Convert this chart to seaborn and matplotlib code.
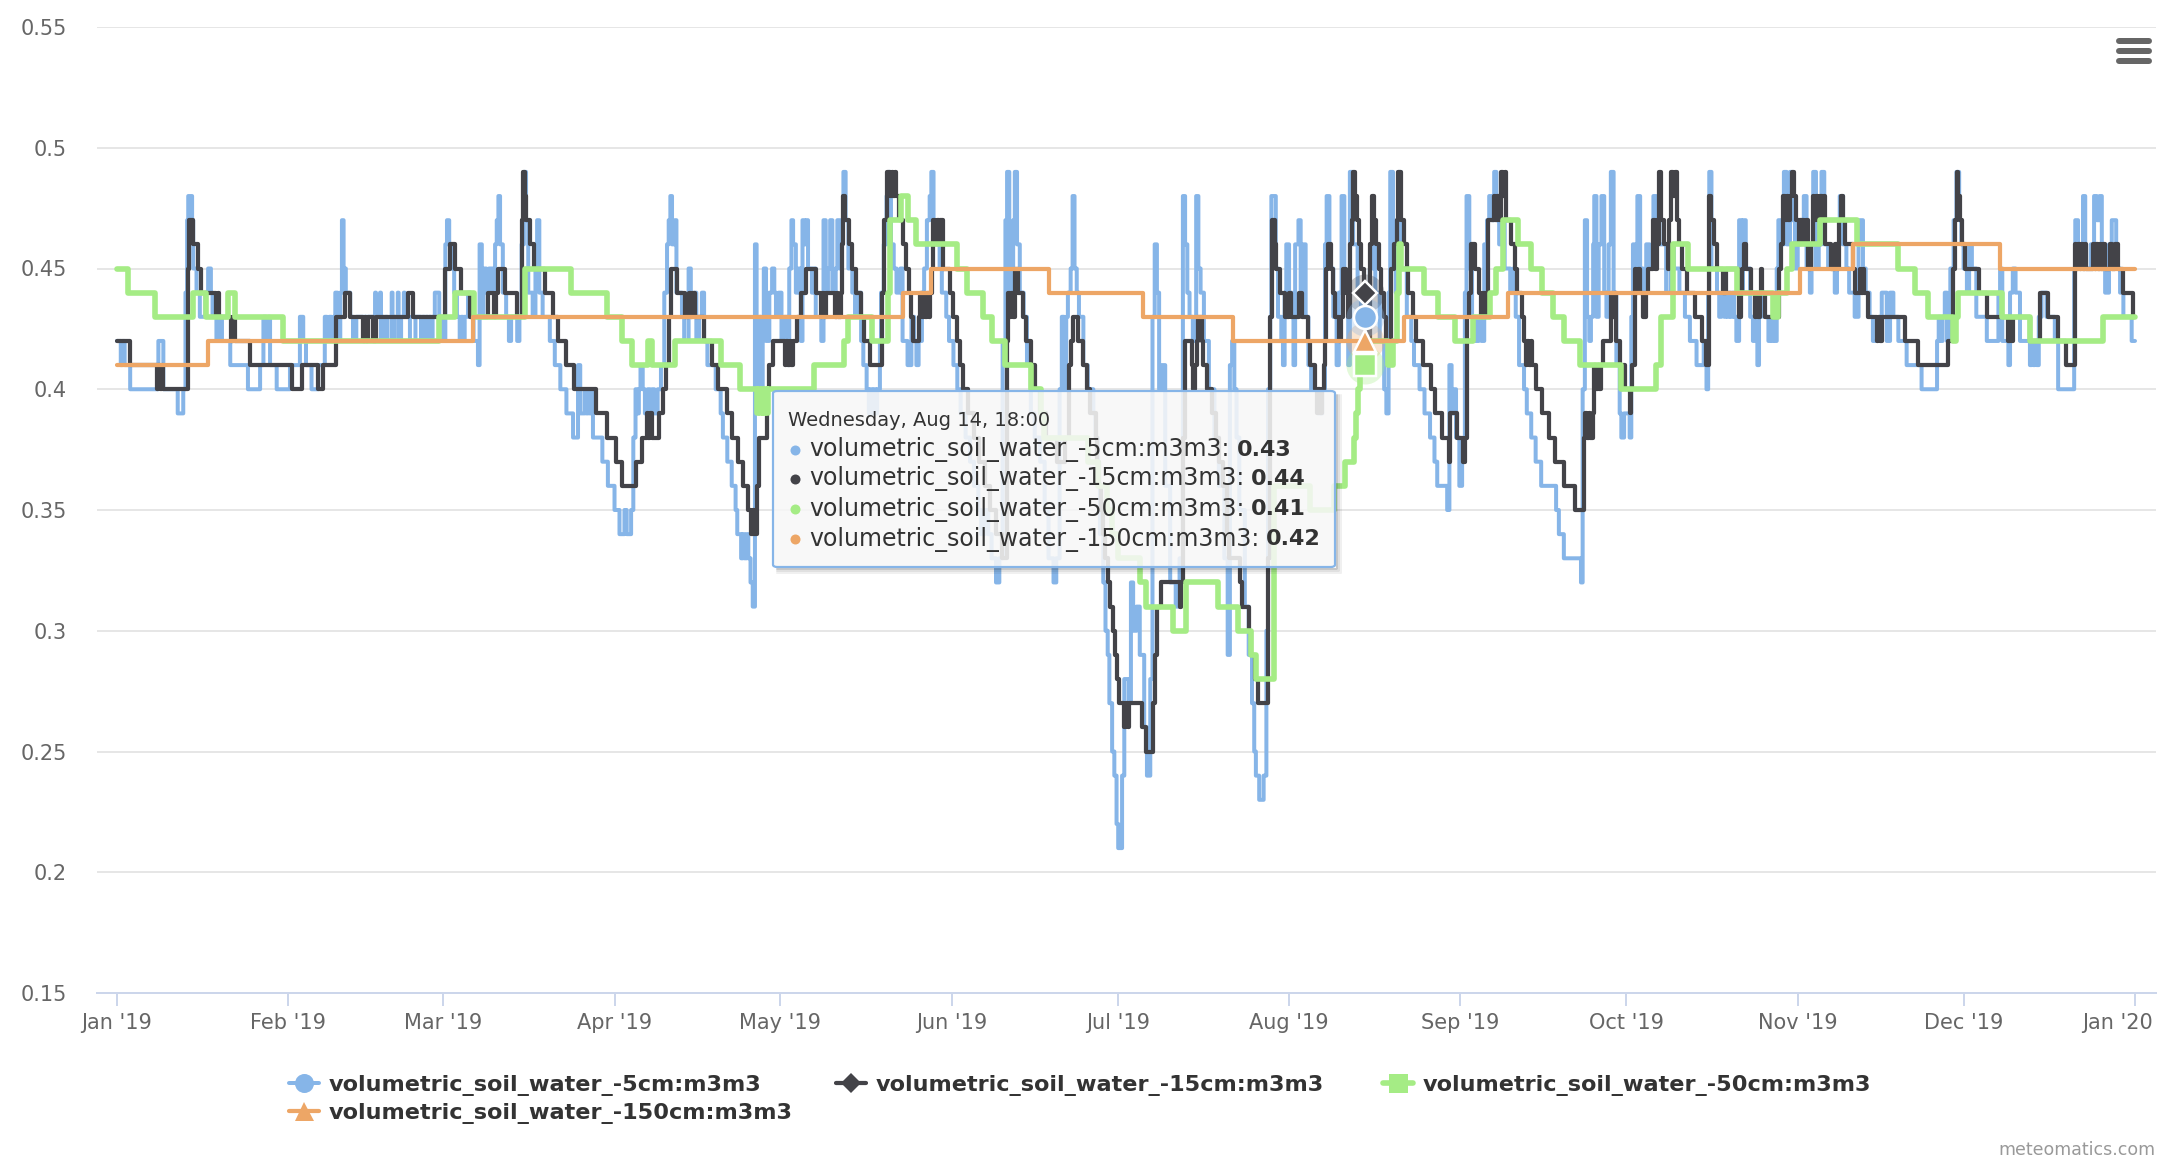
import matplotlib
matplotlib.use("Agg")
import matplotlib.pyplot as plt
import matplotlib.dates as mdates
from matplotlib.lines import Line2D
from matplotlib.patches import FancyBboxPatch
from matplotlib.transforms import ScaledTranslation
import pandas as pd
import seaborn as sns

# (days since 1 Jan 2019, value)
soil_5cm = [(0,.42),(0.7,.41),(1.0,.42),(1.4,.41),(2.4,.40),(7.5,.42),(8.4,.40),(11,.39),(12,.40),(12.4,.44),(12.7,.47),(12.9,.48),(13.6,.47),(13.8,.45),(14.4,.44),(15,.43),(16,.44),(16.5,.45),(17,.44),(17.3,.43),(18,.42),(18.5,.43),(19,.42),(20.5,.41),(23.7,.40),(25.9,.41),(26.5,.43),(27,.42),(27.4,.43),(27.7,.41),(28.9,.40),(31.3,.41),(33.1,.43),(33.7,.42),(34.2,.41),(35.2,.40),(36.4,.41),(37.6,.43),(38,.42),(38.4,.43),(38.8,.42),(39.2,.43),(39.5,.44),(39.9,.42),(40.4,.44),(40.7,.47),(41,.45),(41.4,.44),(42.2,.43),(42.7,.42),(43.3,.43),(46.7,.44),(46.85,.43),(47.6,.44),(47.75,.42),(48,.43),(48.3,.42),(48.6,.43),(48.9,.42),(49.7,.44),(49.85,.42),(50.2,.43),(50.8,.44),(50.95,.42),(51.4,.43),(51.9,.44),(52.05,.43),(53,.42),(54,.43),(55,.42),(55.3,.43),(55.6,.42),(55.9,.43),(56.2,.42),(56.5,.43),(56.8,.42),(57.1,.43),(57.5,.44),(58.3,.43),(59,.42),(59.4,.46),(59.7,.47),(60.1,.46),(60.5,.45),(61,.44),(61.5,.43),(62,.42),(62.3,.43),(62.6,.42),(62.9,.43),(63.5,.44),(64,.43),(64.5,.42),(65.3,.41),(65.6,.46),(66,.43),(66.3,.45),(66.8,.44),(67.3,.45),(68,.44),(68.4,.46),(68.7,.47),(69,.48),(69.3,.46),(69.8,.44),(70.4,.43),(70.9,.42),(71.3,.43),(72.4,.42),(72.8,.43),(73.2,.46),(73.6,.49),(74,.47),(74.4,.44),(75.2,.43),(75.7,.45),(76,.47),(76.4,.44),(77,.43),(78.3,.42),(79.2,.41),(80.2,.40),(81.3,.39),(82.5,.38),(83.4,.41),(83.8,.39),(84.6,.40),(84.9,.39),(85.2,.40),(85.5,.39),(85.8,.40),(86.1,.38),(87.8,.37),(88.8,.36),(90,.35),(90.9,.34),(91.8,.35),(92.2,.34),(93,.35),(93.4,.38),(93.8,.40),(94.1,.39),(94.4,.40),(94.7,.41),(95.1,.40),(95.5,.39),(96,.40),(96.4,.39),(96.8,.40),(97.2,.39),(97.8,.40),(98.4,.41),(99,.44),(99.5,.46),(99.8,.47),(100.1,.48),(100.4,.46),(100.9,.47),(101.2,.44),(102.2,.43),(102.6,.42),(103.4,.45),(103.8,.43),(104.4,.44),(104.8,.42),(105.3,.43),(105.8,.44),(106.2,.42),(106.8,.41),(108.3,.40),(109.2,.39),(109.6,.38),(110.4,.37),(111.2,.36),(111.9,.35),(112.2,.34),(112.9,.33),(113.2,.34),(113.5,.33),(113.9,.34),(114.2,.33),(114.6,.32),(115,.31),(115.4,.46),(115.7,.42),(115.9,.40),(116.2,.43),(116.5,.40),(116.8,.43),(117,.45),(117.4,.42),(118,.44),(118.5,.45),(118.9,.44),(119.2,.43),(119.7,.44),(120.2,.42),(120.7,.43),(121.2,.41),(121.6,.45),(122,.47),(122.3,.46),(122.8,.44),(123.3,.45),(123.7,.42),(124,.47),(124.4,.46),(124.7,.47),(125,.45),(125.7,.44),(126,.45),(126.4,.43),(127.4,.42),(127.8,.47),(128.2,.44),(128.6,.45),(129,.47),(129.4,.44),(130,.45),(130.3,.47),(130.7,.45),(131.1,.47),(131.4,.49),(131.8,.47),(132.3,.45),(133,.44),(133.5,.43),(134,.44),(134.6,.42),(135,.41),(135.6,.40),(136,.39),(136.3,.40),(136.6,.39),(136.9,.40),(137.2,.39),(137.5,.40),(138,.42),(138.2,.44),(138.7,.46),(139.2,.48),(139.5,.49),(140,.46),(140.5,.45),(141,.44),(141.7,.45),(142.1,.42),(143,.41),(143.7,.43),(144.2,.42),(144.6,.41),(145,.42),(145.6,.44),(146,.45),(146.5,.47),(147,.48),(147.3,.49),(147.7,.47),(148.3,.46),(148.8,.45),(149.2,.44),(150,.43),(150.5,.42),(151.3,.41),(152,.40),(152.6,.39),(153.5,.38),(154.3,.37),(155,.36),(155.8,.35),(156.3,.34),(157,.35),(157.6,.34),(158.2,.33),(159,.32),(159.6,.33),(160.2,.42),(160.7,.47),(161,.49),(161.4,.44),(161.8,.45),(162.1,.47),(162.4,.49),(162.8,.46),(163.3,.44),(164,.43),(164.6,.41),(165.3,.39),(166,.38),(167,.37),(167.8,.35),(168.5,.33),(169.4,.32),(169.9,.33),(170.5,.40),(170.9,.43),(171.3,.40),(171.7,.43),(172,.44),(172.5,.45),(172.85,.48),(173.2,.45),(173.6,.44),(174,.43),(174.8,.41),(175.6,.40),(176.6,.39),(177,.38),(177.4,.36),(177.8,.34),(178.4,.32),(178.8,.30),(179.2,.29),(179.5,.27),(180,.25),(180.4,.24),(180.8,.22),(181.1,.21),(181.8,.24),(182.2,.28),(183,.27),(183.4,.32),(183.8,.30),(184.4,.31),(185,.29),(185.8,.26),(186.3,.24),(186.9,.28),(187.3,.43),(187.7,.46),(188.1,.44),(188.5,.40),(189,.41),(189.6,.36),(190.5,.32),(191.5,.31),(192.2,.33),(192.8,.48),(193.2,.46),(193.6,.44),(194,.43),(194.6,.42),(195.2,.48),(195.6,.45),(196,.44),(196.6,.42),(197.5,.40),(198.5,.38),(199.3,.36),(200.3,.33),(200.9,.29),(201.3,.41),(201.7,.42),(202.1,.40),(202.5,.38),(203,.35),(204,.31),(204.7,.29),(205.3,.27),(205.7,.25),(206,.24),(206.6,.23),(207.4,.24),(207.9,.30),(208.2,.40),(208.6,.43),(208.8,.48),(209.6,.45),(210,.43),(210.6,.42),(210.9,.41),(211.2,.44),(211.5,.46),(212,.44),(212.5,.43),(212.8,.41),(213.1,.46),(213.7,.47),(214.1,.44),(214.5,.46),(215,.43),(215.5,.41),(216,.40),(217.3,.39),(218,.40),(218.5,.46),(218.8,.48),(219.3,.45),(220,.43),(220.6,.41),(221,.44),(221.5,.48),(222,.44),(222.7,.41),(223,.49),(223.6,.46),(224.4,.44),(225,.43),(226,.42),(226.6,.45),(227.2,.46),(227.6,.44),(228.4,.42),(229.2,.40),(229.6,.39),(230,.44),(230.3,.49),(230.8,.46),(231.3,.44),(231.75,.49),(232.2,.45),(233.3,.43),(234.1,.42),(234.6,.41),(235.6,.40),(236.5,.39),(237.5,.38),(238.3,.37),(238.8,.36),(240.6,.35),(241,.41),(241.4,.39),(241.8,.40),(242.2,.38),(242.8,.36),(243.3,.37),(243.8,.44),(244.1,.48),(244.6,.45),(245.1,.43),(245.7,.42),(246.3,.43),(246.8,.42),(247.3,.46),(247.8,.47),(248.2,.48),(248.7,.47),(249.1,.49),(249.5,.47),(250,.46),(250.5,.47),(251,.45),(252,.44),(252.6,.45),(253,.43),(253.6,.41),(254.5,.40),(255,.39),(255.8,.38),(256.6,.37),(257.6,.36),(258.5,.36),(260.3,.35),(260.8,.34),(261.7,.33),(264.8,.32),(265.1,.40),(265.5,.47),(265.9,.43),(266.3,.42),(266.6,.43),(267,.46),(267.2,.48),(267.6,.43),(268,.46),(268.5,.48),(269,.44),(269.4,.43),(269.8,.46),(270.2,.49),(270.7,.44),(271.2,.41),(271.8,.39),(272.1,.38),(272.6,.39),(273.6,.38),(273.9,.43),(274.2,.46),(274.6,.44),(275,.48),(275.5,.45),(276,.44),(276.6,.46),(277.2,.45),(277.9,.48),(278.4,.47),(279,.46),(280.2,.44),(281,.46),(281.6,.45),(282.6,.44),(283.6,.43),(284.5,.42),(285.7,.41),(287,.42),(287.5,.40),(287.8,.44),(288,.49),(288.4,.45),(289.4,.44),(289.8,.43),(290.2,.44),(290.7,.43),(291,.44),(291.3,.43),(291.6,.44),(291.9,.43),(292.2,.44),(292.5,.43),(292.9,.42),(293.4,.47),(293.8,.44),(294.1,.47),(294.6,.45),(295.4,.43),(295.9,.42),(296.2,.43),(296.7,.41),(297,.43),(297.4,.44),(297.9,.43),(298.7,.42),(299,.43),(299.3,.42),(299.6,.43),(299.9,.42),(300.2,.45),(300.5,.47),(301,.46),(301.5,.49),(302,.46),(302.6,.49),(303,.47),(303.5,.45),(304,.46),(304.6,.47),(305.1,.48),(305.6,.45),(306.2,.44),(306.5,.46),(306.8,.49),(307.3,.45),(307.8,.46),(308.3,.49),(308.8,.46),(309.5,.45),(310.1,.45),(310.7,.44),(311.1,.46),(311.6,.48),(312.2,.46),(312.8,.45),(313.3,.44),(314.3,.43),(315,.46),(315.2,.47),(315.8,.45),(316.3,.44),(317,.43),(317.6,.42),(318.8,.43),(319.2,.44),(320.1,.42),(320.7,.44),(321.3,.43),(322.2,.42),(323.7,.41),(326.4,.40),(329.2,.42),(329.5,.43),(329.8,.42),(330.2,.43),(330.6,.44),(331,.42),(331.6,.45),(332.2,.47),(332.7,.49),(333.2,.47),(333.6,.46),(334,.45),(334.6,.44),(335,.46),(335.5,.45),(336.3,.43),(338.2,.42),(340.3,.44),(340.6,.45),(341,.42),(342.1,.41),(342.4,.44),(342.9,.45),(343.4,.44),(344.2,.42),(346,.41),(346.3,.42),(346.6,.41),(346.9,.42),(347.2,.41),(347.6,.43),(348.1,.44),(349,.43),(350.5,.42),(351.1,.40),(354,.45),(354.2,.47),(354.7,.45),(355.2,.46),(355.6,.48),(356,.45),(357,.46),(357.6,.48),(358.1,.47),(358.6,.48),(359,.46),(359.6,.44),(360.3,.46),(360.8,.47),(361.6,.45),(362.3,.44),(362.9,.43),(364.4,.42),(365,.42)]
soil_15cm = [(0,.42),(2.35,.41),(7.2,.40),(7.5,.41),(7.8,.40),(8.1,.41),(8.4,.40),(12.8,.45),(13.1,.47),(13.8,.46),(14.6,.45),(15.3,.44),(17.9,.43),(18.2,.44),(18.5,.43),(20.7,.42),(21,.43),(21.3,.42),(24.05,.41),(31.6,.40),(33.4,.41),(36.4,.40),(37.3,.41),(39.7,.43),(41.2,.44),(42.1,.43),(44.5,.42),(44.8,.43),(45.1,.42),(45.4,.43),(46.4,.42),(46.9,.43),(52.7,.44),(53.6,.43),(59.3,.45),(60.2,.46),(61.1,.45),(62.3,.44),(63.8,.43),(67.2,.44),(68.2,.43),(68.5,.44),(69,.45),(70.2,.44),(72.3,.43),(73.2,.47),(73.5,.49),(73.8,.48),(74.0,.47),(74.7,.46),(75.4,.45),(77.5,.44),(78.8,.43),(79.8,.42),(81.2,.41),(82.6,.40),(86.7,.39),(88.7,.38),(90.3,.37),(91.3,.36),(93.8,.37),(95,.38),(95.9,.39),(96.1,.38),(96.4,.39),(96.7,.38),(98.1,.39),(98.8,.40),(99.4,.41),(99.8,.43),(100.3,.45),(101.3,.44),(102.7,.43),(103.5,.44),(103.8,.43),(104.1,.44),(104.5,.43),(106.2,.42),(107.55,.41),(108.8,.40),(110.4,.39),(111.2,.38),(112.3,.37),(113.3,.36),(114.1,.35),(114.7,.34),(115,.35),(115.3,.34),(115.8,.36),(116.2,.38),(117.5,.40),(118,.41),(118.7,.42),(120.8,.41),(121.1,.42),(121.4,.41),(121.7,.42),(122,.41),(122.3,.42),(123,.43),(123.8,.44),(124.7,.45),(126.5,.44),(127.3,.43),(127.6,.44),(127.9,.43),(128.3,.44),(129.9,.43),(130.2,.44),(130.5,.43),(130.9,.44),(131.1,.46),(131.3,.48),(131.7,.47),(132.4,.46),(133,.45),(133.6,.44),(134.5,.43),(135.1,.42),(136.2,.41),(138.3,.44),(138.8,.47),(139.2,.49),(139.8,.48),(140.1,.49),(140.4,.48),(140.7,.49),(141,.48),(141.4,.47),(142.2,.46),(142.8,.45),(143.2,.44),(143.6,.43),(144,.42),(145,.43),(145.3,.44),(145.6,.43),(145.9,.44),(146.2,.43),(146.5,.44),(146.8,.43),(147.1,.44),(147.4,.45),(147.6,.47),(148,.46),(148.3,.47),(148.6,.46),(148.9,.47),(149.4,.45),(150.7,.44),(151.25,.43),(151.9,.42),(152.5,.41),(153.1,.40),(154,.39),(155,.38),(156,.37),(157,.36),(158,.35),(159,.34),(160,.33),(161,.42),(161.2,.44),(161.5,.43),(161.8,.44),(162.1,.43),(162.4,.45),(163,.44),(163.9,.43),(164.5,.42),(165.25,.41),(166,.40),(167,.39),(168,.38),(170,.37),(171.5,.38),(172.2,.41),(172.6,.42),(172.97,.43),(173.9,.42),(174.66,.41),(175.5,.40),(176,.39),(177,.38),(177.3,.37),(177.6,.36),(178,.35),(178.4,.34),(178.8,.33),(179.3,.32),(179.7,.31),(180.1,.30),(180.5,.29),(180.9,.28),(181.3,.27),(182.1,.26),(182.5,.27),(182.8,.26),(183.1,.27),(185.4,.26),(186.2,.25),(187.4,.27),(187.8,.29),(188.2,.31),(188.8,.32),(192.2,.31),(192.5,.32),(192.9,.38),(193.2,.42),(194.4,.41),(194.7,.40),(195,.41),(195.3,.42),(195.6,.43),(196.2,.42),(196.5,.41),(197.1,.40),(198,.39),(198.7,.38),(199.3,.37),(200,.36),(200.7,.34),(201.1,.33),(203.1,.32),(203.5,.31),(204.7,.30),(205.2,.29),(205.8,.28),(206.4,.27),(208.2,.33),(208.6,.43),(208.9,.47),(209.4,.46),(209.7,.45),(210.3,.44),(211.2,.43),(212,.44),(212.3,.43),(213.8,.44),(214.3,.43),(215.35,.42),(215.8,.41),(216.7,.40),(217,.39),(217.3,.40),(217.6,.39),(218,.40),(218.3,.41),(218.5,.42),(218.7,.45),(219,.46),(219.6,.45),(219.9,.44),(220.3,.43),(221.0,.42),(221.4,.43),(221.8,.45),(222.3,.44),(222.7,.43),(223,.46),(223.3,.47),(223.6,.49),(224,.48),(224.3,.47),(224.7,.46),(225.1,.45),(225.5,.44),(226,.43),(226.4,.42),(226.7,.46),(227,.48),(227.3,.47),(227.7,.46),(228.2,.45),(228.7,.44),(229.1,.43),(229.6,.42),(230.5,.45),(231,.46),(231.5,.47),(231.75,.49),(232.2,.47),(232.7,.46),(233.25,.45),(233.6,.44),(234.5,.43),(235,.42),(236.3,.41),(237.6,.40),(238.4,.39),(239.7,.38),(241,.37),(241.2,.39),(242.4,.38),(243.5,.37),(243.9,.38),(244.1,.43),(244.5,.44),(244.9,.46),(245.7,.45),(246.4,.44),(246.8,.43),(247.1,.44),(247.4,.43),(247.7,.44),(248,.47),(249,.48),(249.3,.47),(249.6,.48),(250,.47),(250.4,.49),(250.7,.48),(251,.49),(251.3,.47),(252.2,.46),(252.85,.45),(253.3,.44),(254.2,.43),(254.5,.42),(254.8,.41),(255.1,.42),(255.4,.41),(255.7,.42),(256,.41),(256.6,.40),(257.7,.39),(259,.38),(260.1,.37),(261.7,.36),(263.7,.35),(265.3,.38),(265.6,.39),(265.9,.38),(266.2,.39),(266.5,.38),(266.9,.39),(267.2,.41),(267.5,.40),(267.8,.41),(268.1,.40),(268.4,.41),(268.7,.42),(270.3,.44),(270.5,.43),(270.8,.44),(271.1,.42),(271.8,.41),(272.1,.40),(272.4,.41),(272.7,.40),(273.6,.39),(273.9,.40),(274.1,.41),(274.5,.45),(274.8,.44),(275.1,.45),(275.4,.44),(276,.43),(276.6,.44),(277,.45),(277.9,.47),(278.2,.45),(278.5,.47),(278.8,.46),(279,.49),(279.3,.47),(279.9,.46),(280.5,.45),(280.8,.47),(281.1,.49),(281.5,.48),(281.8,.49),(282.1,.47),(282.5,.46),(283,.45),(283.9,.44),(285.4,.43),(286.6,.42),(287.5,.41),(288,.48),(288.4,.47),(288.8,.46),(289.4,.45),(290.5,.44),(291,.45),(293.2,.44),(293.4,.43),(293.7,.44),(294,.45),(294.2,.46),(294.6,.45),(295.6,.44),(296.2,.43),(296.5,.44),(296.8,.43),(297.1,.44),(297.3,.45),(297.6,.44),(298,.43),(300.7,.45),(301,.46),(301.4,.48),(301.7,.47),(302,.48),(302.3,.47),(302.6,.48),(302.9,.49),(303.3,.48),(303.6,.47),(304.2,.46),(304.5,.47),(305.2,.46),(305.5,.47),(305.8,.45),(306.4,.46),(306.7,.48),(307,.47),(307.3,.48),(307.6,.47),(308.1,.48),(308.4,.47),(308.7,.48),(308.9,.46),(310,.45),(310.7,.46),(311.2,.45),(311.5,.47),(311.8,.48),(312.1,.47),(312.6,.46),(314,.45),(314.3,.44),(315.2,.45),(315.5,.44),(315.8,.45),(316,.44),(316.7,.43),(318.3,.42),(318.6,.43),(318.9,.42),(319.2,.43),(323.4,.42),(325.8,.41),(331.1,.42),(332.1,.45),(332.5,.47),(332.8,.49),(333,.48),(333.3,.47),(333.75,.46),(334.2,.45),(336.8,.44),(338.3,.43),(342.1,.42),(342.4,.43),(342.7,.42),(343,.43),(346,.42),(347.9,.44),(349.2,.43),(351.1,.42),(352.6,.41),(354.1,.46),(354.4,.45),(354.7,.46),(355,.45),(355.3,.46),(355.6,.45),(355.9,.46),(356.2,.45),(357.4,.46),(357.7,.45),(358,.46),(358.3,.45),(358.6,.46),(358.9,.45),(359.2,.46),(359.5,.45),(360.5,.46),(360.9,.45),(361.3,.46),(361.9,.45),(362.9,.44),(364.7,.43),(365,.43)]
soil_50cm = [(0,.45),(2.05,.44),(6.9,.43),(13.8,.44),(16.2,.43),(20.1,.44),(21.3,.43),(30,.42),(58.3,.43),(61.1,.44),(64.6,.43),(73.8,.45),(82.2,.44),(88.7,.43),(91.3,.42),(93.2,.41),(96.1,.42),(96.7,.41),(100.9,.42),(109.2,.41),(112.7,.40),(115.7,.39),(116,.40),(116.3,.39),(116.6,.40),(116.9,.39),(117.2,.40),(117.5,.39),(117.8,.40),(126.1,.41),(131.5,.42),(132.3,.43),(136.5,.42),(139.5,.44),(139.8,.47),(141.9,.48),(143,.47),(144.6,.46),(151.9,.45),(153.7,.44),(156.7,.43),(158.3,.42),(160.6,.41),(165.4,.40),(167.2,.39),(167.6,.38),(175.7,.37),(177.5,.36),(179,.35),(180,.34),(181,.33),(185,.32),(186.2,.31),(191,.30),(193.4,.32),(199.1,.31),(202.7,.30),(205.2,.29),(206,.28),(209.2,.36),(215.7,.35),(220.1,.36),(222.1,.37),(223.7,.38),(224.1,.39),(224.5,.40),(224.9,.41),(226,.42),(229.9,.41),(230.8,.42),(231.5,.44),(231.9,.46),(232.3,.45),(236.4,.44),(239,.43),(242.1,.42),(245.3,.43),(248.3,.44),(249.5,.45),(250.7,.47),(253.4,.46),(255.7,.45),(257.8,.44),(259.8,.43),(261.8,.42),(264.6,.41),(272.1,.40),(278.3,.41),(279.2,.43),(281.5,.46),(284.2,.45),(293.1,.44),(299.6,.43),(300.5,.44),(302,.45),(302.9,.46),(308,.47),(314.7,.46),(322.2,.45),(325.2,.44),(327.6,.43),(332.1,.42),(332.7,.43),(333,.44),(340.9,.43),(346,.42),(359.2,.43),(365,.43)]
soil_150cm = [(0,.41),(16.5,.42),(64.4,.43),(142.2,.44),(147.2,.45),(168.6,.44),(185.6,.43),(201.8,.42),(232.8,.43),(251.6,.44),(304.4,.45),(314,.46),(340.6,.45),(365,.45)]

series_names = ["volumetric_soil_water_-5cm:m3m3", "volumetric_soil_water_-15cm:m3m3",
                "volumetric_soil_water_-50cm:m3m3", "volumetric_soil_water_-150cm:m3m3"]
series_steps = [soil_5cm, soil_15cm, soil_50cm, soil_150cm]
series_colors = ["#86b5e8", "#434348", "#a5ec85", "#eda666"]
series_width_px = [4.0, 4.2, 5.6, 4.2]
series_markers = ["o", "D", "s", "^"]
hover_values = [0.43, 0.44, 0.41, 0.42]
hover_text = ["0.43", "0.44", "0.41", "0.42"]
y_ticks = [0.15, 0.2, 0.25, 0.3, 0.35, 0.4, 0.45, 0.5, 0.55]
y_labels = ["0.15", "0.2", "0.25", "0.3", "0.35", "0.4", "0.45", "0.5", "0.55"]

W, H = 2178, 1174
PX = 72 / 100
start = pd.Timestamp("2019-01-01")
to_date = lambda d: start + pd.to_timedelta(d, unit="D")

sns.set_theme(style="white")
plt.rcParams["font.family"] = ["DejaVu Sans"]
fig = plt.figure(figsize=(W / 100, H / 100), dpi=100, facecolor="white")
ax = fig.add_axes([97 / W, 1 - 993 / H, (2156 - 97) / W, (993 - 27) / H])

for name, steps, color, width in zip(series_names, series_steps, series_colors, series_width_px):
    frame = pd.DataFrame(steps, columns=["day", "value"])
    frame["date"] = to_date(frame["day"])
    sns.lineplot(data=frame, x="date", y="value", ax=ax, color=color, linewidth=width * PX,
                 drawstyle="steps-post", estimator=None, sort=False, legend=False,
                 solid_joinstyle="round", solid_capstyle="round", zorder=3)

# hover state
hover_day = to_date(225.75)
for val, color in zip(hover_values[::-1], series_colors[::-1]):
    ax.plot([hover_day], [val], marker="o", ms=38 * PX, color=color, alpha=0.3, mew=0, zorder=4)
for i in [2, 3, 0, 1]:
    ax.plot([hover_day], [hover_values[i]], marker=series_markers[i], ms=(23 if i != 1 else 17) * PX,
            color=series_colors[i], mec="white", mew=2.5 * PX, zorder=5)

ax.set_xlim(to_date(-3.6), to_date(368.8))
ax.set_ylim(0.15, 0.55)
ax.set_yticks(y_ticks, y_labels)
ax.xaxis.set_major_locator(mdates.MonthLocator())
ax.xaxis.set_major_formatter(mdates.DateFormatter("%b '%y"))
ax.set_xlabel("")
ax.set_ylabel("")
ax.grid(axis="y", color="#e6e6e6", linewidth=2 * PX, zorder=0)
ax.set_axisbelow(True)
for side in ["top", "left", "right"]:
    ax.spines[side].set_visible(False)
ax.spines["bottom"].set_color("#ccd6eb")
ax.spines["bottom"].set_linewidth(2 * PX)
ax.tick_params(axis="x", length=13 * PX, width=2 * PX, color="#ccd6eb", labelcolor="#666666",
               labelsize=15, pad=5, bottom=True)
ax.tick_params(axis="y", length=0, labelcolor="#666666", labelsize=15, pad=21.6, left=False)
fig.canvas.draw()
last_label = ax.get_xticklabels()[-1]
last_label.set_transform(last_label.get_transform() + ScaledTranslation(-17 / 100, 0, fig.dpi_scale_trans))

# legend, one block per entry
legend_pos = [(289, 1075), (836, 1075), (1383, 1075), (289, 1103)]
for name, color, marker, width, (lx, ly) in zip(series_names, series_colors, series_markers,
                                                series_width_px, legend_pos):
    handle = Line2D([], [], color=color, lw=width * PX, marker=marker,
                    ms=(19 if marker != "D" else 14) * PX, mew=0)
    fig.legend(handles=[handle], labels=[name], loc="upper left",
               bbox_to_anchor=(lx / W, 1 - ly / H), bbox_transform=fig.transFigure,
               frameon=False, prop={"size": 16.1, "weight": "bold"}, labelcolor="#333333",
               handlelength=1.34, handletextpad=0.45, borderpad=0, borderaxespad=0)

# tooltip: soft shadow along the right and bottom edges, then the box
tx0, ty0, tx1, ty1 = 773, 391, 1335, 567
for off, a in [(2, 0.22), (4, 0.12), (6, 0.06)]:
    fig.add_artist(Line2D([(tx0 + 4) / W, tx1 / W + off / W, tx1 / W + off / W],
                          [1 - (ty1 + off) / H, 1 - (ty1 + off) / H, 1 - (ty0 + 4) / H],
                          color="black", alpha=a, lw=2 * PX, transform=fig.transFigure, zorder=6))
box = FancyBboxPatch((tx0 / W, 1 - ty1 / H), (tx1 - tx0) / W, (ty1 - ty0) / H,
                     boxstyle="round,pad=0,rounding_size=0.002", transform=fig.transFigure,
                     facecolor=(0.97, 0.97, 0.97, 0.87), edgecolor="#86b5e8", linewidth=2.2 * PX, zorder=7)
fig.add_artist(box)
fig.text(788 / W, 1 - 420 / H, "Wednesday, Aug 14, 18:00", fontsize=14, color="#333333",
         va="center", ha="left", zorder=8)
row_y = [450, 479, 509, 539]
for name, color, value, y in zip(series_names, series_colors, hover_text, row_y):
    fig.add_artist(Line2D([795 / W], [1 - y / H], marker="o", ms=10 * PX, color=color, mew=0,
                          transform=fig.transFigure, zorder=8))
    t = fig.text(809 / W, 1 - y / H, name + ":", fontsize=17, color="#333333", va="center",
                 ha="left", zorder=8)
    fig.canvas.draw()
    ext = t.get_window_extent()
    fig.text((ext.x1 + 7) / W, 1 - y / H, value, fontsize=16, fontweight="bold", color="#333333",
             va="center", ha="left", zorder=8)

# export-menu symbol and credit
for y in [41, 51, 61]:
    fig.add_artist(Line2D([2119 / W, 2149 / W], [1 - y / H, 1 - y / H], color="#666666",
                          lw=6 * PX, solid_capstyle="round", transform=fig.transFigure))
fig.text(2156 / W, 1 - 1150 / H, "meteomatics.com", fontsize=12.5, color="#999999", ha="right", va="center")

fig.savefig("out.png", dpi=100)
